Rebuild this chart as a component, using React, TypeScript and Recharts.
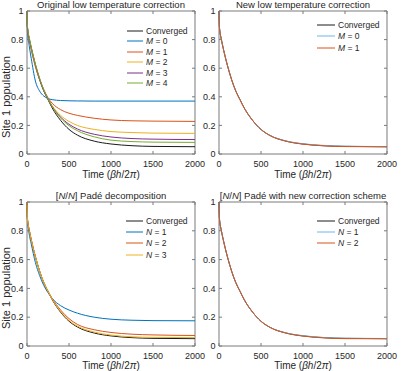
import { LineChart, Line, XAxis, YAxis, ReferenceArea, Legend } from 'recharts'

const FONT = '"Liberation Sans", Arial, Helvetica, sans-serif'
const INK = '#262626'
const AXIS = '#7a7a7a'

// time points (units of beta*hbar)
const times = [0, 4, 10, 25, 50, 100, 150, 200, 250, 300, 400, 500, 600, 800, 1000, 1250, 1500, 2000]

const converged = [1, 0.9, 0.86, 0.81, 0.74, 0.62, 0.52, 0.44, 0.38, 0.322, 0.235, 0.172, 0.132, 0.09, 0.07, 0.058, 0.053, 0.051]

// original low temperature correction
const origM0 = [1, 0.87, 0.82, 0.76, 0.67, 0.51, 0.44, 0.405, 0.388, 0.38, 0.374, 0.372, 0.371, 0.37, 0.37, 0.37, 0.37, 0.37]
const origM1 = [1, 0.9, 0.86, 0.8, 0.73, 0.61, 0.52, 0.45, 0.393, 0.355, 0.31, 0.285, 0.27, 0.25, 0.238, 0.232, 0.23, 0.228]
const origM2 = [1, 0.9, 0.86, 0.81, 0.74, 0.62, 0.525, 0.448, 0.388, 0.338, 0.27, 0.228, 0.2, 0.172, 0.157, 0.15, 0.146, 0.144]
const origM3 = [1, 0.9, 0.86, 0.81, 0.745, 0.625, 0.525, 0.445, 0.385, 0.332, 0.258, 0.208, 0.175, 0.138, 0.119, 0.108, 0.104, 0.101]
const origM4 = [1, 0.91, 0.87, 0.82, 0.75, 0.63, 0.53, 0.447, 0.385, 0.33, 0.252, 0.198, 0.163, 0.12, 0.097, 0.087, 0.083, 0.081]

// new low temperature correction
const newM0 = [1, 0.9, 0.86, 0.81, 0.74, 0.62, 0.52, 0.44, 0.38, 0.322, 0.235, 0.172, 0.132, 0.091, 0.072, 0.06, 0.055, 0.052]
const newM1 = [1, 0.9, 0.86, 0.81, 0.74, 0.62, 0.52, 0.44, 0.38, 0.322, 0.235, 0.171, 0.131, 0.089, 0.069, 0.057, 0.052, 0.05]

// [N/N] Pade decomposition
const padeN1 = [1, 0.88, 0.84, 0.78, 0.71, 0.58, 0.49, 0.42, 0.37, 0.33, 0.28, 0.25, 0.228, 0.2, 0.186, 0.179, 0.176, 0.175]
const padeN2 = [1, 0.9, 0.86, 0.81, 0.74, 0.62, 0.52, 0.44, 0.38, 0.33, 0.25, 0.19, 0.15, 0.113, 0.094, 0.082, 0.077, 0.073]
const padeN3 = [1, 0.9, 0.86, 0.81, 0.74, 0.62, 0.52, 0.44, 0.38, 0.325, 0.24, 0.178, 0.138, 0.097, 0.076, 0.064, 0.06, 0.058]

// Pade with new correction scheme
const padeNewN1 = [1, 0.9, 0.86, 0.81, 0.74, 0.62, 0.52, 0.44, 0.38, 0.322, 0.235, 0.172, 0.132, 0.091, 0.072, 0.059, 0.054, 0.052]
const padeNewN2 = [1, 0.9, 0.86, 0.81, 0.74, 0.62, 0.52, 0.44, 0.38, 0.322, 0.235, 0.171, 0.131, 0.089, 0.069, 0.056, 0.051, 0.05]

const xTicks = [0, 500, 1000, 1500, 2000]
const yTicks = [0, 0.2, 0.4, 0.6, 0.8, 1]

const C = {
  black: '#1a1a1a',
  blue: '#0072BD',
  lightBlue: '#6fb6e6',
  orange: '#D95319',
  yellow: '#EDB120',
  purple: '#7E2F8E',
  green: '#77AC30',
}

function table(cols: Record<string, number[]>) {
  return times.map((t, i) => {
    const row: Record<string, number> = { t }
    for (const k in cols) row[k] = cols[k][i]
    return row
  })
}

type Series = { key: string; name: string; color: string; values: number[] }

const ML = 27
const MT = 11
const MR = 14
const XH = 30
const PW = 168

function label(name: string) {
  if (/^[MN] =/.test(name)) return <><i>{name[0]}</i>{name.slice(1)}</>
  return name
}

function Panel({ left, top, h, series, lx, ly, lx2, row }: {
  left: number; top: number; h: number; series: Series[]; lx: number; ly: number; lx2: number; row: number
}) {
  const data = table(Object.fromEntries(series.map(s => [s.key, s.values])))

  const xTick = (p: any) => (
    <g>
      <line x1={p.x} x2={p.x} y1={p.y} y2={p.y - 3} stroke={AXIS} />
      <line x1={p.x} x2={p.x} y1={p.y - h} y2={p.y - h + 3} stroke={AXIS} />
      <text x={p.x} y={p.y + 12.5} textAnchor="middle" fill={INK} fontSize={9} fontFamily={FONT}>{p.payload.value}</text>
    </g>
  )
  const yTick = (p: any) => (
    <g>
      <line x1={p.x} x2={p.x + 3} y1={p.y} y2={p.y} stroke={AXIS} />
      <line x1={p.x + PW - 3} x2={p.x + PW} y1={p.y} y2={p.y} stroke={AXIS} />
      <text x={p.x - 3.5} y={p.y + 3.2} textAnchor="end" fill={INK} fontSize={9} fontFamily={FONT}>{p.payload.value}</text>
    </g>
  )

  const legend = () => (
    <div style={{ fontFamily: FONT, fontSize: 8.5, color: INK }}>
      {series.map(s => (
        <div key={s.key} style={{ display: 'flex', alignItems: 'center', height: row, whiteSpace: 'nowrap' }}>
          <svg width={lx2 + 3} height={4} style={{ display: 'block' }}>
            <line x1={0} x2={lx2} y1={2} y2={2} stroke={s.color} strokeWidth={1} />
          </svg>
          <span>{label(s.name)}</span>
        </div>
      ))}
    </div>
  )

  return (
    <div style={{ position: 'absolute', left: left - ML, top: top - MT }}>
      <LineChart width={ML + PW + MR} height={MT + h + XH} data={data} margin={{ top: MT, right: MR, left: 0, bottom: 0 }}>
        <XAxis dataKey="t" type="number" domain={[0, 2000]} ticks={xTicks} height={XH}
          axisLine={false} tickLine={false} tickSize={0} tickMargin={0} tick={xTick} interval={0} />
        <YAxis type="number" domain={[0, 1]} ticks={yTicks} width={ML}
          axisLine={false} tickLine={false} tickSize={0} tickMargin={0} tick={yTick} interval={0} />
        <ReferenceArea x1={0} x2={2000} y1={0} y2={1} fill="none" stroke={AXIS} strokeWidth={1} ifOverflow="visible" />
        {series.map(s => (
          <Line key={s.key} type="monotone" dataKey={s.key} name={s.name} stroke={s.color} strokeWidth={1}
            dot={false} activeDot={false} isAnimationActive={false} />
        ))}
        <Legend layout="vertical" align="center" verticalAlign="middle" content={legend}
          wrapperStyle={{ left: lx - left + ML, top: ly - top + MT - row / 2, width: 'auto', height: 'auto' }} />
      </LineChart>
    </div>
  )
}

const panel1: Series[] = [
  { key: 'conv', name: 'Converged', color: C.black, values: converged },
  { key: 'm0', name: 'M = 0', color: C.blue, values: origM0 },
  { key: 'm1', name: 'M = 1', color: C.orange, values: origM1 },
  { key: 'm2', name: 'M = 2', color: C.yellow, values: origM2 },
  { key: 'm3', name: 'M = 3', color: C.purple, values: origM3 },
  { key: 'm4', name: 'M = 4', color: C.green, values: origM4 },
]
const panel2: Series[] = [
  { key: 'conv', name: 'Converged', color: C.black, values: converged },
  { key: 'm0', name: 'M = 0', color: C.lightBlue, values: newM0 },
  { key: 'm1', name: 'M = 1', color: C.orange, values: newM1 },
]
const panel3: Series[] = [
  { key: 'conv', name: 'Converged', color: C.black, values: converged },
  { key: 'n1', name: 'N = 1', color: C.blue, values: padeN1 },
  { key: 'n2', name: 'N = 2', color: C.orange, values: padeN2 },
  { key: 'n3', name: 'N = 3', color: C.yellow, values: padeN3 },
]
const panel4: Series[] = [
  { key: 'conv', name: 'Converged', color: C.black, values: converged },
  { key: 'n1', name: 'N = 1', color: C.lightBlue, values: padeNewN1 },
  { key: 'n2', name: 'N = 2', color: C.orange, values: padeNewN2 },
]

const T = { fontFamily: FONT, fill: INK }

function TimeLabel({ x, y }: { x: number; y: number }) {
  return (
    <text x={x} y={y} textAnchor="middle" fontSize={10} {...T}>
      Time (<tspan fontStyle="italic">βh</tspan>/2<tspan fontStyle="italic">π</tspan>)
    </text>
  )
}

function NN() {
  return <>[<tspan fontStyle="italic">N</tspan>/<tspan fontStyle="italic">N</tspan>]</>
}

export default function App() {
  return (
    <div style={{ position: 'absolute', left: 0, top: 0, width: 403, height: 371, background: '#fff' }}>
      <Panel left={27} top={11} h={143} series={panel1} lx={127} ly={31} lx2={16} row={10.4} />
      <Panel left={219} top={11} h={143} series={panel2} lx={317} ly={25.3} lx2={18} row={11.2} />
      <Panel left={27} top={202} h={144} series={panel3} lx={126} ly={220.7} lx2={17} row={11.4} />
      <Panel left={219} top={202} h={144} series={panel4} lx={317} ly={220.7} lx2={18} row={11.4} />
      <svg width={403} height={371} style={{ position: 'absolute', left: 0, top: 0, pointerEvents: 'none' }}>
        <text x={111} y={8} textAnchor="middle" fontSize={9.5} {...T}>Original low temperature correction</text>
        <text x={303} y={8} textAnchor="middle" fontSize={9.5} {...T}>New low temperature correction</text>
        <text x={111} y={199} textAnchor="middle" fontSize={9.5} {...T}><NN /> Padé decomposition</text>
        <text x={303} y={199} textAnchor="middle" fontSize={9.5} {...T}><NN /> Padé with new correction scheme</text>
        <TimeLabel x={111} y={178} />
        <TimeLabel x={303} y={178} />
        <TimeLabel x={111} y={369} />
        <TimeLabel x={303} y={369} />
        <text transform="translate(9.5,97) rotate(-90)" textAnchor="middle" fontSize={11} {...T}>Site 1 population</text>
        <text transform="translate(9.5,288) rotate(-90)" textAnchor="middle" fontSize={11} {...T}>Site 1 population</text>
      </svg>
    </div>
  )
}
